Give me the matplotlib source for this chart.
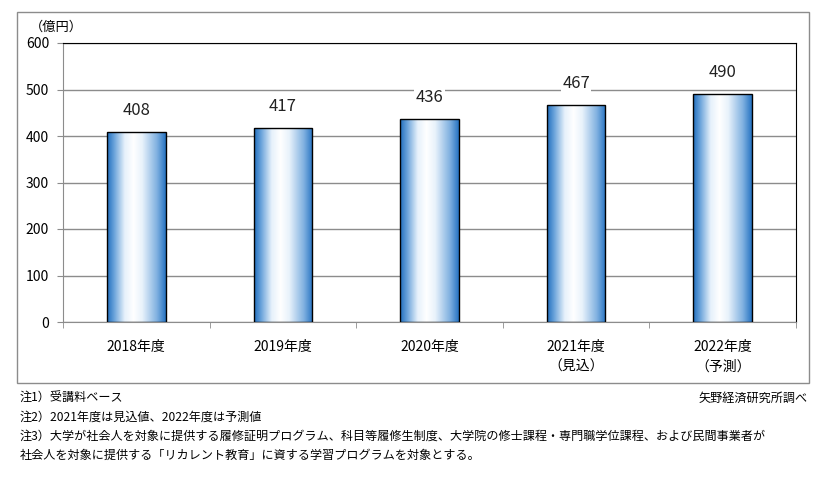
import matplotlib.pyplot as plt
import matplotlib.patches as mpatches
from matplotlib.colors import LinearSegmentedColormap
import numpy as np

plt.rcParams['font.family'] = ['Noto Sans CJK JP', 'DejaVu Sans']

# データ
nendo = ["2018年度", "2019年度", "2020年度", "2021年度\n（見込）", "2022年度\n（予測）"]
shijou = [408, 417, 436, 467, 490]
yticks = [0, 100, 200, 300, 400, 500, 600]
chuu = [
    "注1）受講料ベース",
    "注2）2021年度は見込値、2022年度は予測値",
    "注3）大学が社会人を対象に提供する履修証明プログラム、科目等履修生制度、大学院の修士課程・専門職学位課程、および民間事業者が",
    "社会人を対象に提供する「リカレント教育」に資する学習プログラムを対象とする。",
]

fig = plt.figure(figsize=(8.21, 4.96), dpi=100)
W, H = 821, 496

# 外枠
waku = mpatches.Rectangle((17 / W, 1 - 383 / H), (809 - 17) / W, (383 - 12) / H,
                          transform=fig.transFigure, fill=False, edgecolor="#8c8c8c", lw=1)
fig.add_artist(waku)

ax = fig.add_axes([63 / W, 1 - 322 / H, (796 - 63) / W, (322 - 43) / H])
x = np.arange(len(nendo))
bars = ax.bar(x, shijou, width=0.4, facecolor="none", edgecolor="black", lw=1, zorder=3)

# 横方向グラデーション
cmap = LinearSegmentedColormap.from_list("ao", [
    (0.0, "#1f6ebe"), (0.12, "#6aa3da"), (0.3, "#e6f1fb"), (0.45, "#ffffff"),
    (0.6, "#e8f2fb"), (0.85, "#7fb0e0"), (1.0, "#2673c2")])
grad = np.linspace(0, 1, 256).reshape(1, -1)
for b in bars:
    im = ax.imshow(grad, cmap=cmap, aspect="auto", zorder=2,
                   extent=[b.get_x(), b.get_x() + b.get_width(), 0, b.get_height()])
    im.set_clip_path(b)

for xi, v in zip(x, shijou):
    ax.text(xi, v + 46, str(v), ha="center", va="center", fontsize=12,
            color="#222222", zorder=4,
            bbox=dict(facecolor="white", edgecolor="none", pad=1))

ax.set_xlim(-0.5, len(nendo) - 0.5)
ax.set_ylim(0, 600)
ax.set_yticks(yticks)
ax.set_yticklabels([str(t) for t in yticks], fontsize=10)
ax.yaxis.grid(True, color="#8c8c8c", lw=1)
ax.set_axisbelow(True)
ax.set_xticks(x)
ax.set_xticklabels(nendo, fontsize=10, linespacing=1.5)
ax.set_xticks(np.arange(-0.5, len(nendo)), minor=True)
ax.tick_params(axis="x", which="major", length=0, pad=13)
ax.tick_params(axis="x", which="minor", length=4, color="#8c8c8c")
ax.tick_params(axis="y", length=4, color="#8c8c8c", pad=6)
ax.spines["left"].set_color("#8c8c8c")
ax.spines["bottom"].set_color("#8c8c8c")
ax.spines["top"].set_color("black")
ax.spines["right"].set_color("black")

fig.text(30 / W, 1 - 27 / H, "（億円）", fontsize=9.5, va="center", ha="left")

ys = [398, 417, 436, 455]
for t, yy in zip(chuu, ys):
    fig.text(20 / W, 1 - yy / H, t, fontsize=8.7, va="center", ha="left")
fig.text(808 / W, 1 - 398 / H, "矢野経済研究所調べ", fontsize=8.7, va="center", ha="right")

fig.savefig("out.png", dpi=100)
